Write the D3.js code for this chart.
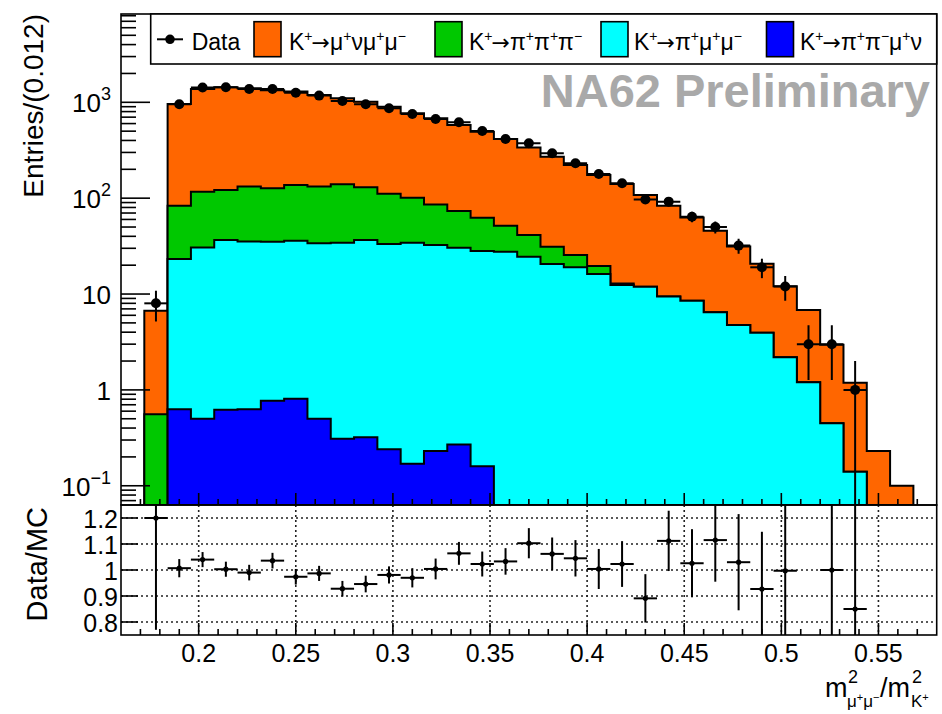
<!DOCTYPE html>
<html><head><meta charset="utf-8">
<script src="https://cdn.jsdelivr.net/npm/d3@7"></script>
<style>
body{margin:0;background:#fff}
svg{display:block}
text{font-family:"Liberation Sans",Arial,Helvetica,sans-serif}
</style>
</head><body>
<svg id="c" width="942" height="714"></svg>
<script>
// ---------------- DATA ----------------
const binWidth = 0.012;
const bins = [0.178,0.190,0.202,0.214,0.226,0.238,0.250,0.262,0.274,0.286,0.298,0.310,0.322,0.334,0.346,0.358,0.370,0.382,0.394,0.406,0.418,0.430,0.442,0.454,0.466,0.478,0.490,0.502,0.514,0.526,0.538,0.550,0.562];
// MC components (stack order: bottom -> top)
const kPiPiMuNu = [0,0.63,0.50,0.62,0.63,0.77,0.81,0.50,0.31,0.32,0.24,0.17,0.23,0.27,0.16,0,0,0,0,0,0,0,0,0,0,0,0,0,0,0,0,0,0];
const kPiMuMu   = [0,22.6,30.0,36.0,34.6,34.4,35.2,33.3,34.0,36.3,33.1,34.1,32.3,30.2,27.9,27.6,24.5,20.6,19.0,16.2,12.4,11.9,9.4,8.5,6.45,4.75,3.95,2.19,1.2,0.45,0.14,0,0];
const kPiPiPi   = [0.556,60.3,86.5,85.4,96.8,91.8,101,98.2,105.7,93.4,77.7,66.7,53.5,43,34.5,24,16.8,10.6,6.5,3.4,0.5,0,0,0,0,0,0,0,0,0,0,0,0];
const kMuNuMuMu = [6.14,877,1260,1312,1268,1208,1156,1061,961,886,790,667,595,507,431,363,296,240,197,155,128,96,74,54.5,39.4,26.5,16.7,9.9,5.6,2.5,1.05,0.23,0.1];
const dataCounts = [8,955,1425,1435,1377,1377,1260,1175,1033,955,867,756,670,619,502,414,374,294,231,179,143,97,92,64,50,32,19,12,3,3,1,0,0];
// Data/MC ratio and its error (null = outside the displayed range)
const ratio    = [1.20,1.007,1.04,1.003,0.99,1.036,0.974,0.987,0.928,0.946,0.981,0.97,1.004,1.064,1.023,1.033,1.103,1.062,1.045,1.004,1.023,0.891,1.112,1.026,1.115,1.03,0.927,0.997,null,1.0,0.85,null,null];
const ratioErr = [0.43,0.035,0.029,0.029,0.03,0.03,0.03,0.029,0.03,0.032,0.033,0.037,0.04,0.044,0.048,0.051,0.058,0.063,0.07,0.077,0.088,0.093,0.116,0.131,0.16,0.185,0.22,0.3,null,0.58,0.85,null,null];
// axis ticks / labels
const xTicks = [0.2,0.25,0.3,0.35,0.4,0.45,0.5,0.55];
const xTickLabels = ["0.2","0.25","0.3","0.35","0.4","0.45","0.5","0.55"];
const yTicks = [0.1,1,10,100,1000];
const yTickLabels = [["10","\u22121"],["1",""],["10",""],["10","2"],["10","3"]];
const rTicks = [0.8,0.9,1.0,1.1,1.2];
const rTickLabels = ["0.8","0.9","1","1.1","1.2"];
const seriesKeys = ["blue","cyan","green","orange"];
const seriesColors = {blue:"#0000ff", cyan:"#00ffff", green:"#00c800", orange:"#ff6600"};
const legendLabels = [
  [["K"],["+","sup"],["\u2192","arr"],["\u03bc"],["+","sup"],["\u03bd"],["\u03bc"],["+","sup"],["\u03bc"],["\u2212","sup"]],
  [["K"],["+","sup"],["\u2192","arr"],["\u03c0"],["+","sup"],["\u03c0"],["+","sup"],["\u03c0"],["\u2212","sup"]],
  [["K"],["+","sup"],["\u2192","arr"],["\u03c0"],["+","sup"],["\u03bc"],["+","sup"],["\u03bc"],["\u2212","sup"]],
  [["K"],["+","sup"],["\u2192","arr"],["\u03c0"],["+","sup"],["\u03c0"],["\u2212","sup"],["\u03bc"],["+","sup"],["\u03bd"]]
];
const legendKeys = ["orange","green","cyan","blue"];

// ---------------- LAYOUT ----------------
const X0 = 121, X1 = 936.7, YT = 14, YB = 505, RB = 635;
const YMIN = 0.063, YMAX = 8340;
const svg = d3.select("#c");
const x = d3.scaleLinear().domain([0.16,0.58]).range([X0,X1]);
const y = d3.scaleLog().domain([YMIN,YMAX]).range([YB,YT]);
const yr = d3.scaleLinear().domain([0.75,1.25]).range([RB,YB]);

const defs = svg.append("defs");
defs.append("clipPath").attr("id","clipMain").append("rect").attr("x",X0).attr("y",YT).attr("width",X1-X0).attr("height",YB-YT);
defs.append("clipPath").attr("id","clipRatio").append("rect").attr("x",X0).attr("y",YB).attr("width",X1-X0).attr("height",RB-YB);

// ---------------- STACKED HISTOGRAMS ----------------
const table = bins.map((b,i)=>({x:b, blue:kPiPiMuNu[i], cyan:kPiMuMu[i], green:kPiPiPi[i], orange:kMuNuMuMu[i]}));
const layers = d3.stack().keys(seriesKeys)(table);
const gH = svg.append("g").attr("clip-path","url(#clipMain)");
const area = d3.area().x(p=>x(p[0])).y0(YB).y1(p=>y(p[1]));
layers.slice().reverse().forEach(L=>{
  const idx = L.map((d,i)=>d[1]>1e-9?i:-1).filter(i=>i>=0);
  const first = idx[0], last = idx[idx.length-1];
  const pts = [];
  for(let i=first;i<=last;i++){
    const v = Math.max(L[i][1], YMIN*0.9);
    pts.push([bins[i]-binWidth/2, v],[bins[i]+binWidth/2, v]);
  }
  gH.append("path").attr("d",area(pts))
    .attr("fill",seriesColors[L.key]).attr("stroke","#000").attr("stroke-width",2).attr("stroke-linejoin","miter");
});

// ---------------- DATA POINTS ----------------
const gD = svg.append("g").attr("clip-path","url(#clipMain)");
bins.forEach((b,i)=>{
  const n = dataCounts[i];
  if(!(n>0)) return;
  const e = Math.sqrt(n);
  const lo = Math.max(n-e, YMIN*0.5);
  gD.append("line").attr("x1",x(b)).attr("x2",x(b)).attr("y1",y(lo)).attr("y2",y(n+e)).attr("stroke","#000").attr("stroke-width",2);
  gD.append("line").attr("x1",x(b-binWidth/2)).attr("x2",x(b+binWidth/2)).attr("y1",y(n)).attr("y2",y(n)).attr("stroke","#000").attr("stroke-width",2);
  gD.append("circle").attr("cx",x(b)).attr("cy",y(n)).attr("r",5).attr("fill","#000");
});

// ---------------- RATIO PANEL ----------------
const gR = svg.append("g");
xTicks.forEach(t=>{
  gR.append("line").attr("x1",x(t)).attr("x2",x(t)).attr("y1",YB).attr("y2",RB)
    .attr("stroke","#222").attr("stroke-width",1.6).attr("stroke-dasharray","2,3");
});
rTicks.forEach(t=>{
  gR.append("line").attr("x1",X0).attr("x2",X1).attr("y1",yr(t)).attr("y2",yr(t))
    .attr("stroke","#222").attr("stroke-width",1.6).attr("stroke-dasharray","2,3");
});
const gRP = svg.append("g").attr("clip-path","url(#clipRatio)");
bins.forEach((b,i)=>{
  const r = ratio[i];
  if(r===null) return;
  const e = ratioErr[i];
  gRP.append("line").attr("x1",x(b)).attr("x2",x(b)).attr("y1",yr(r-e)).attr("y2",yr(r+e)).attr("stroke","#000").attr("stroke-width",2);
  gRP.append("line").attr("x1",x(b-binWidth/2)).attr("x2",x(b+binWidth/2)).attr("y1",yr(r)).attr("y2",yr(r)).attr("stroke","#000").attr("stroke-width",2);
  gRP.append("circle").attr("cx",x(b)).attr("cy",yr(r)).attr("r",2.6).attr("fill","#000");
});

// ---------------- FRAMES & TICKS ----------------
const gA = svg.append("g").attr("stroke","#000");
gA.append("rect").attr("x",X0).attr("y",YT).attr("width",X1-X0).attr("height",YB-YT).attr("fill","none").attr("stroke-width",1.6);
gA.append("rect").attr("x",X0).attr("y",YB).attr("width",X1-X0).attr("height",RB-YB).attr("fill","none").attr("stroke-width",1.6);

const minorX = d3.range(17,58).map(k=>k/100);
[YB,RB].forEach(base=>{
  minorX.forEach(t=>{
    const major = Math.abs(t*20-Math.round(t*20))<1e-6;
    gA.append("line").attr("x1",x(t)).attr("x2",x(t)).attr("y1",base).attr("y2",base-(major?12:6)).attr("stroke-width",1.6);
  });
});
// main y log ticks
const minorY = [];
for(let d=-2; d<=3; d++) for(let m=1;m<=9;m++){ const v=m*Math.pow(10,d); if(v>=YMIN && v<=YMAX) minorY.push({v, major:m===1}); }
minorY.forEach(t=>{
  gA.append("line").attr("x1",X0).attr("x2",X0+(t.major?29:15)).attr("y1",y(t.v)).attr("y2",y(t.v)).attr("stroke-width",1.6);
});
// ratio y ticks
rTicks.forEach(t=>{
  gA.append("line").attr("x1",X0).attr("x2",X0+17).attr("y1",yr(t)).attr("y2",yr(t)).attr("stroke-width",1.6);
});

// ---------------- LABELS ----------------
const gT = svg.append("g").attr("fill","#000");
yTicks.forEach((t,i)=>{
  const tx = gT.append("text").attr("x",111).attr("y",y(t)+10).attr("text-anchor","end").attr("font-size",26);
  tx.append("tspan").text(yTickLabels[i][0]);
  if(yTickLabels[i][1]) tx.append("tspan").attr("dy",-12).attr("font-size",18).text(yTickLabels[i][1]);
});
rTicks.forEach((t,i)=>{
  gT.append("text").attr("x",118).attr("y",yr(t)+9.5).attr("text-anchor","end").attr("font-size",25).text(rTickLabels[i]);
});
xTicks.forEach((t,i)=>{
  gT.append("text").attr("x",x(t)).attr("y",662).attr("text-anchor","middle").attr("font-size",25).text(xTickLabels[i]);
});
gT.append("text").attr("transform","translate(43,14) rotate(-90)").attr("text-anchor","end").attr("font-size",28).text("Entries/(0.012)");
gT.append("text").attr("transform","translate(47,507) rotate(-90)").attr("text-anchor","end").attr("font-size",29).text("Data/MC");

// x-axis title  m^2_{mu+mu-}/m^2_{K+}
const gX = gT.append("g");
gX.append("text").attr("x",825).attr("y",697).attr("font-size",27).text("m");
gX.append("text").attr("x",848).attr("y",683).attr("font-size",18).text("2");
const s1 = gX.append("text").attr("x",847).attr("y",707).attr("font-size",17);
s1.append("tspan").text("\u03bc"); s1.append("tspan").attr("dy",-6).attr("font-size",11).text("+");
s1.append("tspan").attr("dy",6).text("\u03bc"); s1.append("tspan").attr("dy",-6).attr("font-size",11).text("\u2212");
gX.append("text").attr("x",880).attr("y",697).attr("font-size",27).text("/m");
gX.append("text").attr("x",912).attr("y",683).attr("font-size",18).text("2");
const s2 = gX.append("text").attr("x",911).attr("y",707).attr("font-size",17);
s2.append("tspan").text("K"); s2.append("tspan").attr("dy",-6).attr("font-size",11).text("+");

// NA62 Preliminary
svg.append("text").attr("x",930).attr("y",106.5).attr("text-anchor","end")
  .attr("font-size",47).attr("font-weight","bold").attr("fill","#a9a9a9").text("NA62 Preliminary");

// ---------------- LEGEND ----------------
const gL = svg.append("g");
gL.append("rect").attr("x",150.7).attr("y",YT).attr("width",X1-150.7).attr("height",50)
  .attr("fill","#fff").attr("stroke","#000").attr("stroke-width",1.6);
gL.append("line").attr("x1",157).attr("x2",183).attr("y1",39.3).attr("y2",39.3).attr("stroke","#000").attr("stroke-width",2);
gL.append("circle").attr("cx",170).attr("cy",39.3).attr("r",4.8).attr("fill","#000");
gL.append("text").attr("x",191.7).attr("y",50).attr("font-size",23).text("Data");
const boxX = [254,435,601,766.5];
const txtX = [289,469,634,800];
legendKeys.forEach((k,i)=>{
  gL.append("rect").attr("x",boxX[i]).attr("y",21.7).attr("width",27).attr("height",35)
    .attr("fill",seriesColors[k]).attr("stroke","#000").attr("stroke-width",1.6);
  const t = gL.append("text").attr("x",txtX[i]).attr("y",50).attr("font-size",23);
  let raised = false;
  legendLabels[i].forEach(seg=>{
    const sp = t.append("tspan").text(seg[0]);
    if(seg[1]==="sup"){ sp.attr("font-size",14); if(!raised){ sp.attr("dy",-9); raised=true; } }
    else {
      if(raised){ sp.attr("dy",9); raised=false; }
      if(seg[1]==="arr"){ sp.attr("font-family","DejaVu Sans").attr("font-size",22).attr("dx",-1); }
    }
  });
});
</script>
</body></html>
